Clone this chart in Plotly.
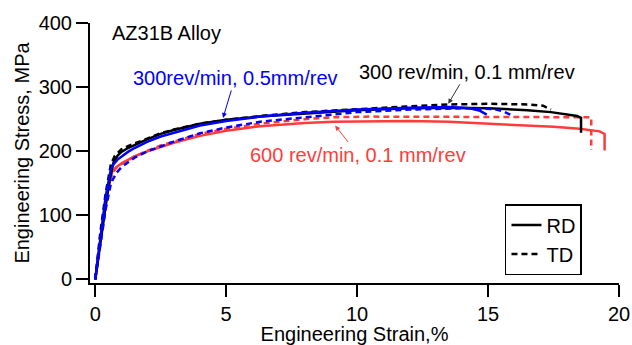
import plotly.graph_objects as go

# ---- data ----
strain_black_rd = [0, 0.2, 0.4, 0.55, 0.7, 0.85, 1.0, 1.25, 1.5, 2.0, 2.5, 3.0, 4.0, 5.0, 6.3, 8.0, 10.0, 12.0, 13.5, 15.0, 16.5, 17.4, 18.0, 18.4, 18.55, 18.55]
stress_black_rd = [0, 60, 115, 155, 183, 193, 199, 205, 210, 219, 227, 233, 243, 249, 254, 259, 264, 267, 268, 267, 264, 261, 258, 255, 252, 229]

strain_black_td = [0, 0.2, 0.4, 0.6, 0.75, 0.9, 1.0, 1.25, 1.5, 2.0, 2.5, 3.0, 4.0, 5.0, 6.3, 8.0, 10.0, 12.0, 13.5, 15.0, 16.5, 17.1, 17.4]
stress_black_td = [0, 75, 135, 180, 193, 199, 203, 208, 212, 220, 228, 234, 243, 249, 255, 261, 266, 270, 273, 274, 273, 271, 265]

strain_blue_rd = [0, 0.2, 0.4, 0.6, 0.7, 0.85, 1.0, 1.25, 1.5, 2.0, 2.5, 3.0, 4.0, 5.0, 6.3, 8.0, 10.0, 12.0, 13.5, 14.3, 14.7, 14.95]
stress_blue_rd = [0, 70, 130, 172, 180, 187, 192, 199, 205, 215, 223, 229, 240, 247, 254, 260, 265, 268, 269, 267, 263, 257]

strain_blue_td = [0, 0.2, 0.4, 0.6, 0.8, 1.0, 1.25, 1.5, 2.0, 2.5, 3.0, 4.0, 5.0, 6.3, 8.0, 9.1, 10.0, 12.0, 14.0, 15.2, 15.6, 15.9]
stress_blue_td = [0, 55, 110, 150, 166, 175, 183, 190, 200, 208, 215, 228, 237, 246, 253, 258, 261, 265, 267, 266, 262, 256]

strain_red_rd = [0, 0.2, 0.4, 0.65, 0.8, 1.0, 1.25, 1.5, 2.0, 2.5, 3.0, 4.0, 5.0, 6.3, 8.0, 9.1, 10.5, 12.0, 13.5, 14.7, 16.0, 17.5, 18.5, 19.26, 19.45, 19.45]
stress_red_rd = [0, 65, 125, 168, 175, 181, 187, 192, 200, 207, 213, 224, 232, 239, 244, 246, 247, 247, 246, 244, 241, 238, 235, 231, 227, 201]

strain_red_td = [0, 0.2, 0.4, 0.65, 0.8, 1.0, 1.25, 1.5, 2.0, 2.5, 3.0, 4.0, 5.0, 6.3, 8.0, 9.1, 10.5, 12.0, 14.0, 16.0, 18.0, 18.94, 18.94]
stress_red_td = [0, 70, 128, 166, 174, 180, 186, 192, 201, 209, 215, 227, 235, 243, 250, 253, 254, 254, 254, 254, 253, 253, 202]

x_ticks = [0, 5, 10, 15, 20]
y_ticks = [0, 100, 200, 300, 400]

BLACK = "#000000"
BLUE = "#0000ff"
RED = "#ff3c3c"
FONT = "Liberation Sans, Arial, sans-serif"
DASH = "6px,4px"
LW = 2.5

fig = go.Figure()

def add(x, y, color, dash):
    fig.add_trace(go.Scatter(x=x, y=y, mode="lines", showlegend=False,
                             line=dict(color=color, width=LW, dash=dash),
                             hoverinfo="skip"))

add(strain_red_rd, stress_red_rd, RED, "solid")
add(strain_red_td, stress_red_td, RED, DASH)
add(strain_black_rd, stress_black_rd, BLACK, "solid")
add(strain_black_td, stress_black_td, BLACK, DASH)
add(strain_blue_td, stress_blue_td, BLUE, DASH)
add(strain_blue_rd, stress_blue_rd, BLUE, "solid")

# legend entries
fig.add_trace(go.Scatter(x=[None], y=[None], mode="lines", name="RD",
                         line=dict(color=BLACK, width=2.5)))
fig.add_trace(go.Scatter(x=[None], y=[None], mode="lines", name="TD",
                         line=dict(color=BLACK, width=2.5, dash=DASH)))

axis_common = dict(showline=True, linewidth=2, linecolor="black",
                   ticks="outside", ticklen=12, tickwidth=2, tickcolor="black",
                   showgrid=False, zeroline=False, automargin=False,
                   tickfont=dict(family=FONT, size=20, color="black"))

fig.update_layout(
    width=632, height=345,
    margin=dict(l=90, r=13, t=23, b=62),
    plot_bgcolor="white", paper_bgcolor="white",
    font=dict(family=FONT, size=20, color="black"),
    xaxis=dict(range=[-0.2, 20], tickvals=x_ticks, **axis_common,
               title=dict(text="Engineering Strain,%", font=dict(family=FONT, size=20), standoff=2)),
    yaxis=dict(range=[-5.5, 400], tickvals=y_ticks, **axis_common,
               title=dict(text="Engineering Stress, MPa", font=dict(family=FONT, size=20), standoff=4)),
    legend=dict(x=0.93, y=0.167, xanchor="right", yanchor="middle",
                bgcolor="white", bordercolor="black", borderwidth=1.5,
                font=dict(family=FONT, size=20, color="black"),
                itemwidth=30, tracegroupgap=0),
    showlegend=True,
)

fig.add_annotation(x=2.74, y=385, xref="x", yref="y", text="AZ31B Alloy",
                   showarrow=False, font=dict(family=FONT, size=20, color="black"))

fig.add_annotation(x=4.88, y=252, xref="x", yref="y", text="300rev/min, 0.5mm/rev",
                   showarrow=True, ax=12, ay=-40, arrowhead=2, arrowsize=1, arrowwidth=1,
                   arrowcolor=BLUE, font=dict(family=FONT, size=20, color=BLUE))
fig.add_annotation(x=13.48, y=274, xref="x", yref="y", text="300 rev/min, 0.1 mm/rev",
                   showarrow=True, ax=19, ay=-32, arrowhead=2, arrowsize=1, arrowwidth=1,
                   arrowcolor="#333333", font=dict(family=FONT, size=20, color="black"))
fig.add_annotation(x=9.16, y=240, xref="x", yref="y", text="600 rev/min, 0.1 mm/rev",
                   showarrow=True, ax=23, ay=29, arrowhead=2, arrowsize=1, arrowwidth=1,
                   arrowcolor=RED, font=dict(family=FONT, size=20, color=RED))

fig.write_html("out.html", config={"responsive": False, "displayModeBar": False},
               post_script="document.body.style.margin='0';document.body.style.overflow='hidden';")
